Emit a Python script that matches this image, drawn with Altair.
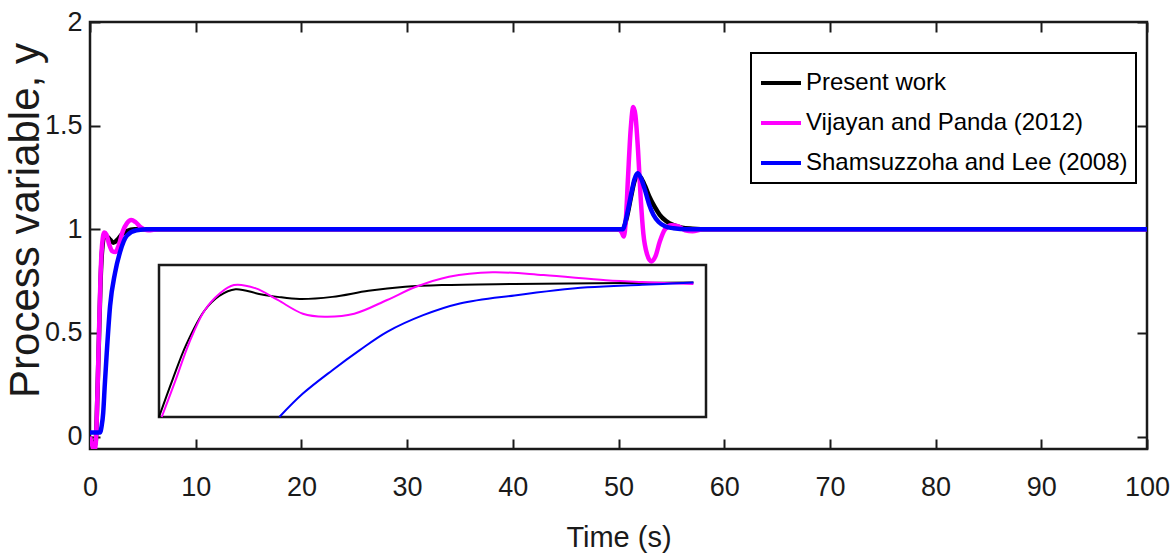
import altair as alt
import pandas as pd

# ---------------- data ----------------
series_names = ["Present work", "Vijayan and Panda (2012)", "Shamsuzzoha and Lee (2008)"]
series_colors = ["#000000", "#ff00ff", "#0000ff"]

black_t = [0, 0.2, 0.4, 0.55, 0.7, 0.85, 1.0, 1.15, 1.35, 1.6, 1.9, 2.2, 2.6, 3.0, 3.5, 4.2,
           50.0, 50.4, 50.8, 51.2, 51.5, 51.8, 52.1, 52.5, 52.9, 53.4, 53.9, 54.5, 55.2, 56.0, 57.0, 58.5, 100]
black_y = [0, -0.03, -0.05, -0.02, 0.2, 0.48, 0.75, 0.9, 0.96, 0.965, 0.95, 0.935, 0.95, 0.975, 0.992, 1.0,
           1.0, 1.0, 1.06, 1.16, 1.23, 1.26, 1.25, 1.21, 1.16, 1.11, 1.07, 1.04, 1.02, 1.008, 1.003, 1.0, 1.0]

magenta_t = [0, 0.2, 0.4, 0.55, 0.7, 0.85, 1.0, 1.15, 1.35, 1.55, 1.8, 2.1, 2.4, 2.7, 3.1, 3.5, 3.9, 4.3, 4.8, 5.5, 6.5,
             50.0, 50.3, 50.5, 50.7, 50.9, 51.15, 51.4, 51.6, 51.85, 52.1, 52.35, 52.7, 53.1, 53.5, 53.9, 54.4,
             55.0, 55.6, 56.3, 57.0, 58.0, 100]
magenta_y = [0, -0.04, -0.07, -0.03, 0.2, 0.5, 0.78, 0.93, 0.985, 0.975, 0.93, 0.895, 0.89, 0.92, 0.99, 1.03, 1.045,
             1.035, 1.01, 0.995, 1.0,
             1.0, 0.985, 0.965, 1.05, 1.25, 1.48, 1.59, 1.55, 1.38, 1.15, 0.98, 0.88, 0.845, 0.87, 0.94, 1.0,
             1.02, 1.015, 0.995, 0.99, 1.0, 1.0]

blue_t = [0, 0.95, 1.1, 1.25, 1.4, 1.58, 1.9, 2.37, 2.84, 3.5, 4.4, 5.5,
          50.0, 50.4, 50.8, 51.2, 51.5, 51.8, 52.1, 52.5, 52.9, 53.3, 53.8, 54.4, 55.2, 56.5, 100]
blue_y = [0.02, 0.02, 0.05, 0.115, 0.25, 0.40, 0.63, 0.79, 0.89, 0.97, 0.995, 1.0,
          1.0, 1.0, 1.07, 1.17, 1.24, 1.27, 1.25, 1.19, 1.12, 1.07, 1.035, 1.015, 1.005, 1.0, 1.0]

# inset (zoomed view of the set-point response)
inset_black_t = [0.0, 0.25, 0.5, 0.83, 1.1, 1.4, 1.83, 2.17, 2.57, 3.17, 3.83, 4.5, 5.17, 6.5, 9.77]
inset_black_y = [0, 0.28, 0.54, 0.79, 0.90, 0.95, 0.915, 0.893, 0.877, 0.893, 0.938, 0.968, 0.981, 0.989, 0.999]
inset_magenta_t = [0.05, 0.3, 0.55, 0.83, 1.1, 1.37, 1.77, 2.17, 2.63, 3.03, 3.57, 4.17, 4.7, 5.3, 6.1, 7.03,
                   8.17, 8.83, 9.77]
inset_magenta_y = [0, 0.27, 0.55, 0.79, 0.915, 0.981, 0.956, 0.87, 0.768, 0.746, 0.768, 0.87, 0.968, 1.043,
                   1.076, 1.055, 1.017, 1.003, 0.989]
inset_blue_t = [2.2, 2.63, 3.17, 3.67, 4.17, 4.83, 5.5, 6.5, 7.83, 8.83, 9.77]
inset_blue_y = [0, 0.174, 0.348, 0.497, 0.633, 0.757, 0.844, 0.904, 0.964, 0.983, 0.999]

x_ticks = list(range(0, 101, 10))
y_ticks = [0, 0.5, 1, 1.5, 2]
x_domain = [0, 100]
y_domain = [-0.06, 2]
inset_x_domain = [0, 10]
inset_y_domain = [0, 1.13]

# ---------------- styling ----------------
FONT = "Liberation Sans, Arial, sans-serif"
INK = "#1a1a1a"

W, H = 1057, 427

xs = alt.Scale(domain=x_domain, nice=False, zero=False)
ys = alt.Scale(domain=y_domain, nice=False, zero=False)
cs = alt.Scale(domain=series_names, range=series_colors)

legend = alt.Legend(
    title=None, orient="none", legendX=661, legendY=31, direction="vertical",
    symbolType="stroke", symbolSize=1600, symbolStrokeWidth=4,
    labelFont=FONT, labelFontSize=24, labelColor="black", labelOffset=3, labelLimit=500,
    strokeColor="black", fillColor="white", padding=8, rowPadding=6,
)

bottom_axis = alt.Axis(
    orient="bottom", values=x_ticks, offset=-10, tickSize=10, domain=False, grid=False,
    labelPadding=25, labelFont=FONT, labelFontSize=27, format="d", labelFlush=False,
    title="Time (s)", titleFont=FONT, titleFontSize=29, titlePadding=23,
)
left_axis = alt.Axis(
    orient="left", values=y_ticks, offset=-10, tickSize=10, domain=False, grid=False,
    labelPadding=8, labelFont=FONT, labelFontSize=27, format="~g", labelFlush=False,
    title="Process variable, y", titleFont=FONT, titleFontSize=42,
    titleX=-75, titleY=198, titleAlign="center", titleBaseline="middle", titleAngle=270,
)
top_axis = alt.Axis(orient="top", values=x_ticks, offset=-10, tickSize=10, domain=False,
                    labels=False, grid=False, title=None)
right_axis = alt.Axis(orient="right", values=y_ticks, offset=-10, tickSize=10, domain=False,
                      labels=False, grid=False, title=None)


def series_df(name, t, y):
    return pd.DataFrame({"series": name, "t": t, "y": y})


main_dfs = [
    series_df(series_names[0], black_t, black_y),
    series_df(series_names[1], magenta_t, magenta_y),
    series_df(series_names[2], blue_t, blue_y),
]

main_layers = []
for i, df in enumerate(main_dfs):
    main_layers.append(
        alt.Chart(df).mark_line(strokeWidth=4.5, interpolate="monotone", clip=True).encode(
            x=alt.X("t:Q", scale=xs, axis=bottom_axis if i == 0 else None),
            y=alt.Y("y:Q", scale=ys, axis=left_axis if i == 0 else None),
            color=alt.Color("series:N", scale=cs, legend=legend),
        )
    )

frame_df = pd.DataFrame({"t": x_domain, "y": y_domain})
frame_axes = alt.Chart(frame_df).mark_point(opacity=0).encode(
    x=alt.X("t:Q", scale=xs, axis=top_axis),
    y=alt.Y("y:Q", scale=ys, axis=right_axis),
)

main = alt.layer(*main_layers, frame_axes).resolve_axis(x="independent", y="independent")

# ---------------- inset ----------------
ixs = alt.Scale(domain=inset_x_domain, range=[69, 616], nice=False, zero=False)
iys = alt.Scale(domain=inset_y_domain, range=[395, 243], nice=False, zero=False)

box_df = pd.DataFrame({"x": [inset_x_domain[0]], "x2": [inset_x_domain[1]],
                       "y": [inset_y_domain[0]], "y2": [inset_y_domain[1]]})
inset_box = alt.Chart(box_df).mark_rect(fill="white", stroke=INK, strokeWidth=2.5).encode(
    x=alt.X("x:Q", scale=ixs, axis=None), x2="x2:Q",
    y=alt.Y("y:Q", scale=iys, axis=None), y2="y2:Q",
)

inset_layers = [inset_box]
for t, y, col in [(inset_black_t, inset_black_y, series_colors[0]),
                  (inset_magenta_t, inset_magenta_y, series_colors[1]),
                  (inset_blue_t, inset_blue_y, series_colors[2])]:
    inset_layers.append(
        alt.Chart(pd.DataFrame({"t": t, "y": y})).mark_line(
            strokeWidth=2, interpolate="catmull-rom", color=col).encode(
            x=alt.X("t:Q", scale=ixs, axis=None),
            y=alt.Y("y:Q", scale=iys, axis=None),
        )
    )
inset = alt.layer(*inset_layers)

chart = (
    alt.layer(main, inset)
    .resolve_scale(x="independent", y="independent")
    .properties(
        width=W, height=H,
        autosize=alt.AutoSizeParams(type="none"),
        padding={"left": 90, "top": 22, "right": 24, "bottom": 108},
        background="white",
    )
    .configure_view(stroke=INK, strokeWidth=2.5)
    .configure_axis(tickColor=INK, tickWidth=2, labelColor=INK, titleColor=INK,
                    titleFontWeight="normal", labelOverlap=False)
    .configure_legend(strokeWidth=2)
)

chart.save("out.html", embed_options={"renderer": "svg", "actions": False})
